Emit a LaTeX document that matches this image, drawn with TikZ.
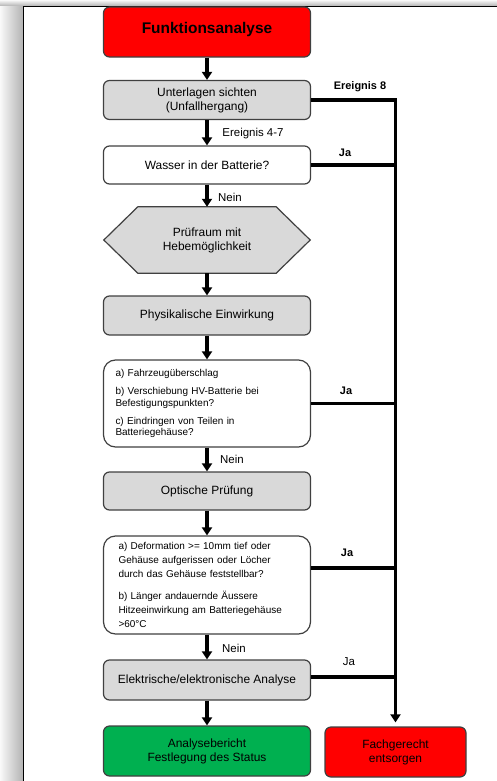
\documentclass[tikz,border=0pt]{standalone}
\usepackage{fontspec}
\setmainfont{Liberation Sans}
\usepackage{xcolor}
\usepackage{tikz}
\usetikzlibrary{positioning,arrows.meta,calc,backgrounds}
\definecolor{alarm}{HTML}{FF0000}
\definecolor{okay}{HTML}{00B050}
\definecolor{panel}{HTML}{D9D9D9}
\definecolor{rim}{HTML}{404040}
\tikzset{
  box/.style={draw=rim, line width=1.2bp, rounded corners=6bp, minimum width=207bp, minimum height=39bp, align=center, inner sep=2bp, font=\fontsize{12}{14}\selectfont},
  panelbox/.style={box, fill=panel},
  query/.style={box, fill=white, rounded corners=12bp, align=left, font=\fontsize{10}{12}\selectfont},
  flow/.style={line width=3.5bp, -{Triangle[length=8bp,width=10bp]}},
  bus/.style={line width=3.5bp},
  lbl/.style={font=\fontsize{11.5}{13}\selectfont},
  boldlbl/.style={font=\bfseries\fontsize{11}{13}\selectfont},
}

\begin{document}
\begin{tikzpicture}[x=1bp,y=-1bp]
\useasboundingbox (0,0) rectangle (497,781);
% frame of the screenshot
\shade[left color=gray!5, right color=gray!60] (0,0) rectangle (23,781);
\shade[top color=gray!5, bottom color=gray!60] (0,0) rectangle (497,6);
\draw[line width=1.2bp] (23.5,781) -- (23.5,6.5) -- (497,6.5);
% main column
\node[box, fill=alarm, minimum height=50bp, text depth=9bp, font=\bfseries\fontsize{15.5}{17}\selectfont] (start) at (207,32) {Funktionsanalyse};
\node[panelbox] (docs) at (207,100) {Unterlagen sichten\\(Unfallhergang)};
\node[box, fill=white, minimum height=38bp] (water) at (207,165) {Wasser in der Batterie?};
\node[minimum width=206bp, minimum height=66bp, align=center, font=\fontsize{12}{14}\selectfont] (lab) at (207,240) {Prüfraum mit\\Hebemöglichkeit};
\begin{scope}[on background layer]
\filldraw[fill=panel, draw=rim, line width=1.2bp] (lab.west) -- ([xshift=34bp]lab.north west) -- ([xshift=-34bp]lab.north east) -- (lab.east) -- ([xshift=-34bp]lab.south east) -- ([xshift=34bp]lab.south west) -- cycle;
\end{scope}
\node[panelbox] (phys) at (207,315.5) {Physikalische Einwirkung};
\node[query, text width=183bp, minimum height=87bp] (impact) at (207,403.5) {a) Fahrzeugüberschlag\\[6bp]b) Verschiebung HV-Batterie bei\\Befestigungspunkten?\\[6bp]c) Eindringen von Teilen in\\Batteriegehäuse?};
\node[panelbox, minimum height=38bp] (optic) at (207,491) {Optische Prüfung};
\node[query, text width=177bp, minimum height=98bp, font=\fontsize{10}{14}\selectfont] (damage) at (207,585) {a) Deformation >= 10mm tief oder\\Gehäuse aufgerissen oder Löcher\\durch das Gehäuse feststellbar?\\[8bp]b) Länger andauernde Äussere\\Hitzeeinwirkung am Batteriegehäuse\\>60°C};
\node[panelbox, minimum height=40bp] (elec) at (207,680) {Elektrische/elektronische Analyse};
\node[box, fill=okay, minimum height=50bp] (report) at (207,751) {Analysebericht\\Festlegung des Status};
\node[box, fill=alarm, minimum width=141bp, minimum height=50bp] (scrap) at (395.5,752) {Fachgerecht\\entsorgen};
% arrows down the column
\draw[flow] (start) -- (docs);
\draw[flow] (docs) -- (water);
\draw[flow] (water) -- (lab);
\draw[flow] (lab) -- (phys);
\draw[flow] (phys) -- (impact);
\draw[flow] (impact) -- (optic);
\draw[flow] (optic) -- (damage);
\draw[flow] (damage) -- (elec);
\draw[flow] (elec) -- (report);
% exits to the right
\draw[flow, shorten >=4bp] (docs.east) -| (scrap.north);
\draw[bus] (water.east) -- (water.east -| scrap.north);
\draw[bus] (impact.east) -- (impact.east -| scrap.north);
\draw[bus] ([yshift=17bp]damage.east) -- ([yshift=17bp]damage.east -| scrap.north);
\draw[bus] ([yshift=3bp]elec.east) -- ([yshift=3bp]elec.east -| scrap.north);
% labels
\node[boldlbl] (ev8) at (360,87) {Ereignis 8};
\node[lbl] (ev47) at (253,134) {Ereignis 4-7};
\node[boldlbl] (yes1) at (345,153) {Ja};
\node[lbl] (no1) at (230,197) {Nein};
\node[boldlbl] (yes2) at (346,391) {Ja};
\node[lbl] (no2) at (232,459) {Nein};
\node[boldlbl] (yes3) at (347,553) {Ja};
\node[lbl] (no3) at (234,648) {Nein};
\node[lbl] (yes4) at (349,662) {Ja};
\end{tikzpicture}
\end{document}
